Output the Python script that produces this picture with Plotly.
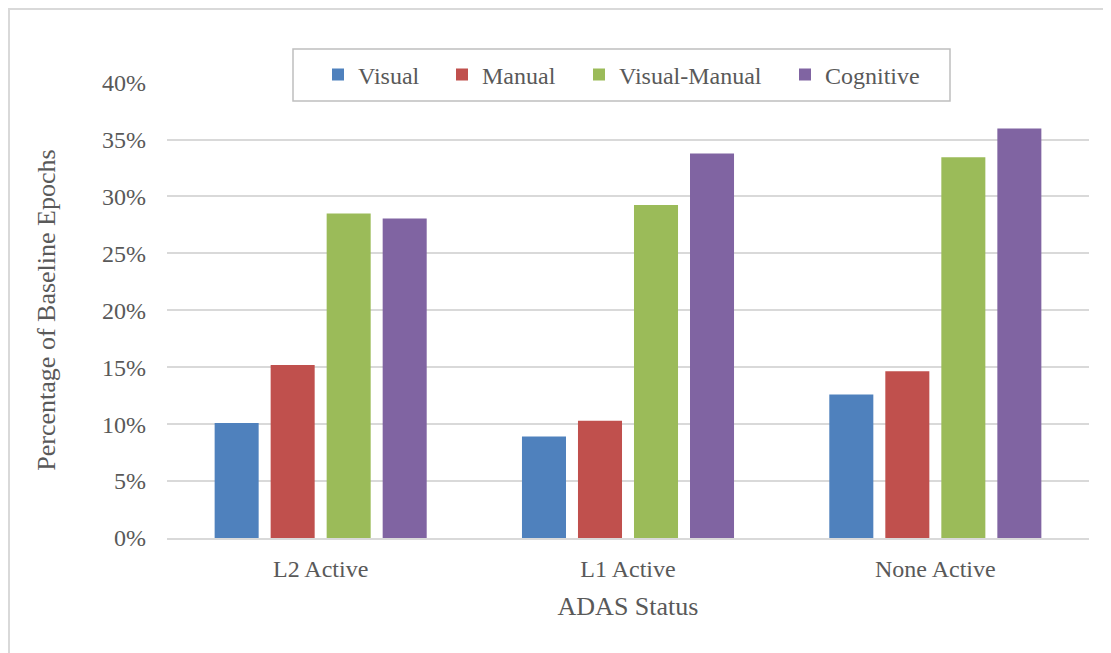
import plotly.graph_objects as go

categories = ["L2 Active", "L1 Active", "None Active"]
series_names = ["Visual", "Manual", "Visual-Manual", "Cognitive"]
visual = [0.1009, 0.0891, 0.1260]
manual = [0.1520, 0.1030, 0.1465]
visual_manual = [0.2850, 0.2924, 0.3345]
cognitive = [0.2807, 0.3377, 0.3596]
y_ticks = [0, 0.05, 0.10, 0.15, 0.20, 0.25, 0.30, 0.35, 0.40]
y_tick_labels = ["0%", "5%", "10%", "15%", "20%", "25%", "30%", "35%", "40%"]

colors = ["#4F81BD", "#C0504D", "#9BBB59", "#8064A2"]
values = [visual, manual, visual_manual, cognitive]

OFF = 8  # page body margin
W, H = 1111, 653
L = 167 - OFF
T = 82 - OFF
R = W - (1089 - OFF)
B = H - (538.3 - OFF)
pw, ph = W - L - R, H - T - B

def px_x(sx):
    return (sx - OFF - L) / pw

def px_y(sy):
    return (H - B - (sy - OFF)) / ph

FONT = "Liberation Serif"
GRAY = "#595959"

fig = go.Figure()
legend_ids = ["legend", "legend2", "legend3", "legend4"]
for name, vals, col, lid in zip(series_names, values, colors, legend_ids):
    fig.add_trace(go.Bar(
        x=categories, y=vals, name=name,
        marker=dict(color=col, line=dict(width=0)),
        legend=lid,
    ))

text_starts = [358, 482, 619, 825]
legend_common = dict(
    orientation="h", xanchor="left", yanchor="middle",
    y=px_y(75), bgcolor="rgba(0,0,0,0)", borderwidth=0,
    font=dict(family=FONT, size=24, color=GRAY),
)
layout_legends = {}
for lid, ts in zip(legend_ids, text_starts):
    layout_legends[lid] = dict(legend_common, x=px_x(ts - 40))

fig.update_layout(
    width=W, height=H,
    margin=dict(l=L, r=R, t=T, b=B, pad=0),
    paper_bgcolor="white", plot_bgcolor="white",
    barmode="group", bargap=0.271, bargroupgap=0.214,
    font=dict(family=FONT, color=GRAY, size=24),
    showlegend=True,
    **layout_legends,
    xaxis=dict(
        showline=True, linecolor="#d9d9d9", linewidth=2,
        showgrid=False, ticks="", ticklabelstandoff=8,
        tickfont=dict(family=FONT, size=24, color=GRAY),
        title=dict(text="ADAS Status", font=dict(family=FONT, size=26, color=GRAY), standoff=16),
    ),
    yaxis=dict(
        range=[0, 0.4005], tickvals=y_ticks, ticktext=y_tick_labels,
        showgrid=True, gridcolor="#d9d9d9", gridwidth=1.5,
        showline=False, zeroline=False, ticks="", ticklabelstandoff=20,
        tickfont=dict(family=FONT, size=24, color=GRAY),
        title=dict(text="Percentage of Baseline Epochs", font=dict(family=FONT, size=26, color=GRAY), standoff=38),
    ),
    shapes=[
        dict(type="rect", xref="paper", yref="paper",
             x0=px_x(293), x1=px_x(950), y0=px_y(101), y1=px_y(49),
             line=dict(color="#bfbfbf", width=1.5), fillcolor="rgba(0,0,0,0)", layer="above"),
        dict(type="rect", xref="paper", yref="paper",
             x0=px_x(OFF + 1), x1=px_x(1300), y0=px_y(800), y1=px_y(OFF + 1),
             line=dict(color="#d9d9d9", width=2), fillcolor="rgba(0,0,0,0)", layer="below"),
    ],
)

fig.write_html("out.html")
